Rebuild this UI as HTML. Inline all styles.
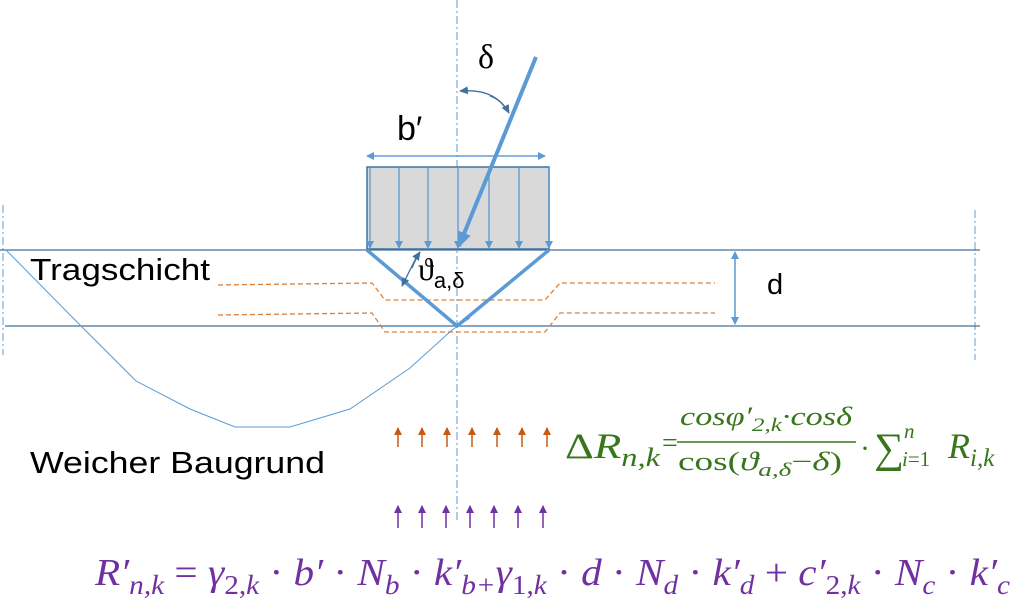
<!DOCTYPE html>
<html><head><meta charset="utf-8"><style>
html,body{margin:0;padding:0;background:#fff;}
svg{display:block;}
</style></head><body>
<svg width="1024" height="600" viewBox="0 0 1024 600" xmlns="http://www.w3.org/2000/svg">
<defs>
<marker id="ab" markerWidth="8" markerHeight="8" refX="7" refY="4" orient="auto" markerUnits="userSpaceOnUse"><path d="M0,0 L8,4 L0,8 z" fill="#5b9bd5"/></marker>
<marker id="abig" markerWidth="16" markerHeight="14" refX="14" refY="7" orient="auto" markerUnits="userSpaceOnUse"><path d="M0,0 L16,7 L0,14 z" fill="#5b9bd5"/></marker>
<marker id="ao" markerWidth="8" markerHeight="8" refX="7" refY="4" orient="auto" markerUnits="userSpaceOnUse"><path d="M0,0 L8,4 L0,8 z" fill="#c55a11"/></marker>
<marker id="ap" markerWidth="8" markerHeight="8" refX="7" refY="4" orient="auto" markerUnits="userSpaceOnUse"><path d="M0,0 L8,4 L0,8 z" fill="#7030a0"/></marker>
<marker id="ad" markerWidth="9" markerHeight="8" refX="8" refY="4" orient="auto" markerUnits="userSpaceOnUse"><path d="M0,0 L9,4 L0,8 z" fill="#41719c"/></marker>
</defs>
<line x1="457" y1="0" x2="457" y2="520" stroke="#5b9bd5" stroke-width="1" stroke-dasharray="8,3,2,3"/>
<line x1="3" y1="205" x2="3" y2="355" stroke="#5b9bd5" stroke-width="1" stroke-dasharray="8,3,2,3"/>
<line x1="975" y1="210" x2="975" y2="360" stroke="#5b9bd5" stroke-width="1" stroke-dasharray="8,3,2,3"/>
<line x1="0" y1="250" x2="980" y2="250" stroke="#41719c" stroke-width="1.2"/>
<line x1="5" y1="326" x2="980" y2="326" stroke="#41719c" stroke-width="1.2"/>
<g stroke="#d9803c" stroke-width="1.3" stroke-dasharray="5,3" fill="none">
<path d="M218,285 L372,283 L385,300 L545,300 L560,283 L715,283"/>
<path d="M218,315 L372,313 L385,332 L545,332 L560,313 L715,313"/>
</g>
<polyline points="6,250 80,325 136,381 190,409 235,427 290,427 350,409 410,368 452,330 470,318" fill="none" stroke="#5b9bd5" stroke-width="1"/>
<rect x="367" y="167" width="182" height="82" fill="#d9d9d9" stroke="#41719c" stroke-width="1.5"/>
<g stroke="#5b9bd5" stroke-width="1.3" marker-end="url(#ab)">
<line x1="370" y1="167" x2="370" y2="248"/><line x1="399" y1="167" x2="399" y2="248"/><line x1="428" y1="167" x2="428" y2="248"/><line x1="458" y1="167" x2="458" y2="248"/><line x1="489" y1="167" x2="489" y2="248"/><line x1="519" y1="167" x2="519" y2="248"/><line x1="549" y1="167" x2="549" y2="248"/>
</g>
<line x1="372" y1="156" x2="545" y2="156" stroke="#5b9bd5" stroke-width="1.3" marker-end="url(#ab)"/>
<line x1="545" y1="156" x2="367" y2="156" stroke="#5b9bd5" stroke-width="1.3" marker-end="url(#ab)"/>
<text x="397" y="140" font-family="Liberation Sans, sans-serif" font-size="34">b′</text>
<line x1="536" y1="57" x2="459" y2="246" stroke="#5b9bd5" stroke-width="4" marker-end="url(#abig)"/>
<text x="478" y="68" font-family="Liberation Serif, serif" font-size="34">δ</text>
<path d="M508,112 Q495,88 460,91" fill="none" stroke="#41719c" stroke-width="1.3" marker-end="url(#ad)"/>
<path d="M490,96 Q502,100 509,113" fill="none" stroke="#41719c" stroke-width="1.3" marker-end="url(#ad)"/>
<polyline points="367,250 457,326 549,250" fill="none" stroke="#5b9bd5" stroke-width="3.5"/>
<path d="M418,254 Q410,270 402,286" fill="none" stroke="#41719c" stroke-width="1.3" marker-end="url(#ad)"/>
<path d="M412,268 Q416,258 420,252" fill="none" stroke="#41719c" stroke-width="1.3" marker-end="url(#ad)"/>
<text x="418" y="280" font-family="Liberation Serif, serif" font-size="32">ϑ<tspan font-family="Liberation Sans, sans-serif" font-size="22" dy="8">a,δ</tspan></text>
<line x1="735" y1="256" x2="735" y2="324" stroke="#5b9bd5" stroke-width="1.3" marker-end="url(#ab)"/>
<line x1="735" y1="320" x2="735" y2="252" stroke="#5b9bd5" stroke-width="1.3" marker-end="url(#ab)"/>
<text x="767" y="294" font-family="Liberation Sans, sans-serif" font-size="29">d</text>
<text x="30" y="280" font-family="Liberation Sans, sans-serif" font-size="31" textLength="180" lengthAdjust="spacingAndGlyphs">Tragschicht</text>
<text x="30" y="473" font-family="Liberation Sans, sans-serif" font-size="31" textLength="295" lengthAdjust="spacingAndGlyphs">Weicher Baugrund</text>
<g stroke="#c55a11" stroke-width="1.5" marker-end="url(#ao)">
<line x1="398" y1="447" x2="398" y2="428"/><line x1="422" y1="447" x2="422" y2="428"/><line x1="447" y1="447" x2="447" y2="428"/><line x1="472" y1="447" x2="472" y2="428"/><line x1="497" y1="447" x2="497" y2="428"/><line x1="522" y1="447" x2="522" y2="428"/><line x1="547" y1="447" x2="547" y2="428"/>
</g>
<g stroke="#7030a0" stroke-width="1.5" marker-end="url(#ap)">
<line x1="398" y1="528" x2="398" y2="506"/><line x1="422" y1="528" x2="422" y2="506"/><line x1="446" y1="528" x2="446" y2="506"/><line x1="470" y1="528" x2="470" y2="506"/><line x1="494" y1="528" x2="494" y2="506"/><line x1="518" y1="528" x2="518" y2="506"/><line x1="543" y1="528" x2="543" y2="506"/>
</g>
<g fill="#38761d" font-family="Liberation Serif, serif">
<text x="565" y="458" font-size="36" textLength="95" lengthAdjust="spacingAndGlyphs">Δ<tspan font-style="italic">R</tspan><tspan font-style="italic" font-size="26" dy="8">n,k</tspan></text>
<text x="662" y="452" font-size="28">=</text>
<line x1="677" y1="442" x2="856" y2="442" stroke="#38761d" stroke-width="1.5"/>
<text x="680" y="425" font-size="26" font-style="italic" textLength="172" lengthAdjust="spacingAndGlyphs">cosφ′<tspan font-size="19" dy="6">2,k</tspan><tspan dy="-6">·cosδ</tspan></text>
<text x="678" y="470" font-size="26" textLength="164" lengthAdjust="spacingAndGlyphs">cos(<tspan font-style="italic">ϑ</tspan><tspan font-style="italic" font-size="19" dy="6">a,δ</tspan><tspan dy="-6">−</tspan><tspan font-style="italic">δ</tspan>)</text>
<text x="860" y="458" font-size="30">·</text>
<text x="874" y="462" font-size="42">∑</text>
<text x="902" y="466" font-size="21" font-style="italic">i<tspan font-style="normal">=1</tspan></text>
<text x="904" y="438" font-size="21" font-style="italic">n</text>
<text x="948" y="458" font-size="36" font-style="italic">R<tspan font-size="25" dy="8">i,k</tspan></text>
</g>
<text x="95" y="585" fill="#7030a0" font-family="Liberation Serif, serif" font-size="38" textLength="915" lengthAdjust="spacingAndGlyphs"><tspan font-style="italic">R′</tspan><tspan font-style="italic" font-size="27" dy="9">n,k</tspan><tspan dy="-9"> = </tspan><tspan font-style="italic">γ</tspan><tspan font-size="27" dy="9">2,<tspan font-style="italic">k</tspan></tspan><tspan dy="-9"> · </tspan><tspan font-style="italic">b′</tspan> · <tspan font-style="italic">N</tspan><tspan font-style="italic" font-size="27" dy="9">b</tspan><tspan dy="-9"> · </tspan><tspan font-style="italic">k′</tspan><tspan font-style="italic" font-size="27" dy="9">b+</tspan><tspan font-style="italic" dy="-9">γ</tspan><tspan font-size="27" dy="9">1,<tspan font-style="italic">k</tspan></tspan><tspan dy="-9"> · </tspan><tspan font-style="italic">d</tspan> · <tspan font-style="italic">N</tspan><tspan font-style="italic" font-size="27" dy="9">d</tspan><tspan dy="-9"> · </tspan><tspan font-style="italic">k′</tspan><tspan font-style="italic" font-size="27" dy="9">d</tspan><tspan dy="-9"> + </tspan><tspan font-style="italic">c′</tspan><tspan font-size="27" dy="9">2,<tspan font-style="italic">k</tspan></tspan><tspan dy="-9"> · </tspan><tspan font-style="italic">N</tspan><tspan font-style="italic" font-size="27" dy="9">c</tspan><tspan dy="-9"> · </tspan><tspan font-style="italic">k′</tspan><tspan font-style="italic" font-size="27" dy="9">c</tspan></text>
</svg>
</body></html>
